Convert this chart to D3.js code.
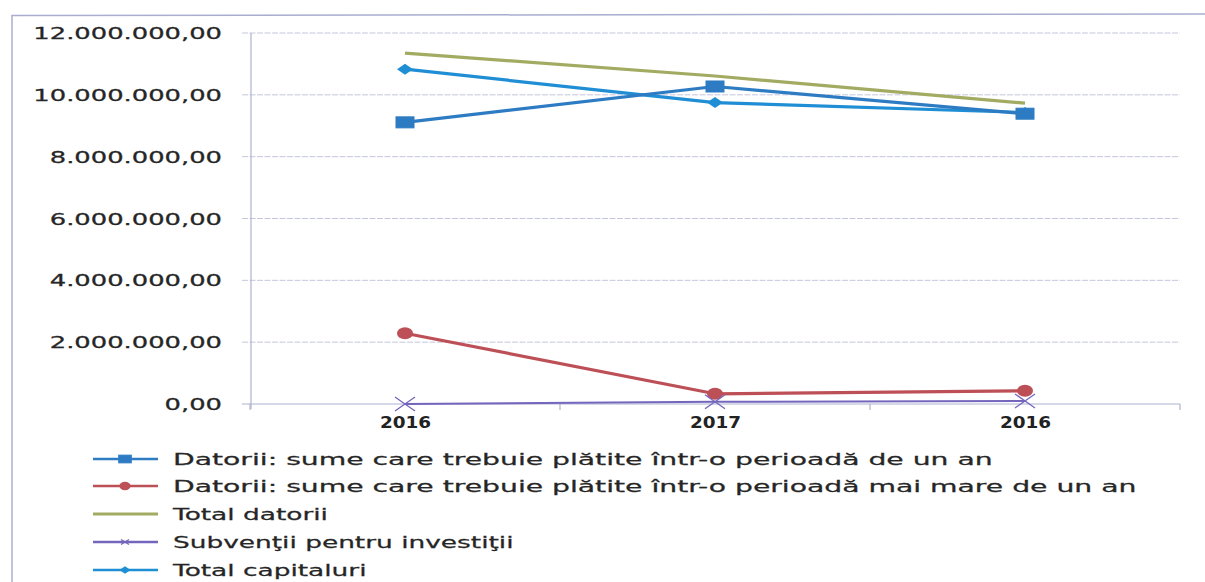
<!DOCTYPE html>
<html>
<head>
<meta charset="utf-8">
<script src="https://cdn.jsdelivr.net/npm/d3@7"></script>
<style>
  html, body { margin: 0; padding: 0; background: #fff; }
  svg { display: block; }
  text { font-family: "DejaVu Sans", Verdana, sans-serif; fill: #262626; }
</style>
</head>
<body>
<svg id="chart" width="1205" height="582"></svg>
<script>
// ---- data ----
const categories = ["2016", "2017", "2016"];
const yTicks = [0, 2000000, 4000000, 6000000, 8000000, 10000000, 12000000];
const datoriiUnAn = [9110000, 10270000, 9390000];
const datoriiPesteUnAn = [2290000, 330000, 430000];
const totalDatorii = [11350000, 10610000, 9730000];
const subventii = [0, 70000, 100000];
const totalCapitaluri = [10830000, 9750000, 9430000];
const seriesNames = [
  "Datorii: sume care trebuie plătite într-o perioadă de un an",
  "Datorii: sume care trebuie plătite într-o perioadă mai mare de un an",
  "Total datorii",
  "Subvenţii pentru investiţii",
  "Total capitaluri"
];

const series = [
  { name: seriesNames[0], values: datoriiUnAn, color: "#2d7cc3", marker: "square" },
  { name: seriesNames[1], values: datoriiPesteUnAn, color: "#bd4f57", marker: "circle" },
  { name: seriesNames[2], values: totalDatorii, color: "#a3ab62", marker: "none" },
  { name: seriesNames[3], values: subventii, color: "#7466bd", marker: "x" },
  { name: seriesNames[4], values: totalCapitaluri, color: "#1f8ed4", marker: "diamond" }
];

const svg = d3.select("#chart");

// outer frame (partial, as in scan)
svg.append("path")
  .attr("d", "M12,582 L12,15.5 L1205,14")
  .attr("fill", "none").attr("stroke", "#a9aed0").attr("stroke-width", 1.5);

const plot = { left: 250, right: 1180, top: 33, bottom: 404 };

const x = d3.scalePoint().domain(d3.range(categories.length))
  .range([plot.left, plot.right]).padding(0.5);
const y = d3.scaleLinear().domain([0, 12000000]).range([plot.bottom, plot.top]);

const fmt = v => {
  const s = d3.format(",.2f")(v);
  return s.replace(/,/g, "#").replace(/\./g, ",").replace(/#/g, ".");
};

// gridlines
svg.append("g").selectAll("line").data(yTicks.filter(d => d > 0)).join("line")
  .attr("x1", plot.left - 8).attr("x2", plot.right)
  .attr("y1", d => y(d)).attr("y2", d => y(d))
  .attr("stroke", "#c4c7de").attr("stroke-width", 1)
  .attr("stroke-dasharray", "6,1.5");

// y axis line
svg.append("line").attr("x1", plot.left + 1).attr("x2", plot.left + 1)
  .attr("y1", plot.top).attr("y2", plot.bottom + 5)
  .attr("stroke", "#aeb2cf").attr("stroke-width", 1.2);

// x axis
const xAxis = d3.axisBottom(x).tickSize(0).tickFormat(i => categories[i]);
const gx = svg.append("g").attr("transform", `translate(0,${plot.bottom})`).call(xAxis);
gx.select(".domain").attr("stroke", "#aeb2cf").attr("stroke-width", 1.2)
  .attr("d", `M${plot.left - 8},0H${plot.right}`);
gx.selectAll(".tick text")
  .attr("y", 0).attr("dy", 0)
  .style("font-family", "'DejaVu Sans', sans-serif")
  .style("font-weight", "bold").style("font-size", "16px").style("fill", "#222")
  .attr("text-anchor", "middle")
  .attr("transform", "translate(0,24) scale(1.15,1)");
// category boundary ticks
const step = x.step();
svg.append("g").selectAll("line").data(d3.range(categories.length + 1)).join("line")
  .attr("x1", i => plot.left + i * step).attr("x2", i => plot.left + i * step)
  .attr("y1", plot.bottom).attr("y2", plot.bottom + 6)
  .attr("stroke", "#aeb2cf").attr("stroke-width", 1.2);

// y labels
const yAxis = d3.axisLeft(y).tickValues(yTicks).tickSize(0).tickFormat(fmt);
const gy = svg.append("g").attr("transform", `translate(222,0)`).call(yAxis);
gy.select(".domain").remove();
gy.selectAll(".tick text")
  .attr("x", 0).attr("dy", 0)
  .style("font-family", "'DejaVu Sans', sans-serif")
  .style("font-size", "15px").style("fill", "#262626")
  .style("stroke", "#262626").style("stroke-width", 0.25)
  .attr("text-anchor", "end")
  .attr("transform", "translate(0,5.5) scale(1.72,1)");

// marker drawer
function drawMarker(g, type, color, size) {
  const s = size || 1;
  if (type === "square") {
    g.append("rect").attr("x", -9 * s).attr("y", -5.5 * s).attr("width", 18 * s).attr("height", 11 * s)
      .attr("fill", color).attr("stroke", color);
  } else if (type === "circle") {
    g.append("ellipse").attr("rx", 8 * s).attr("ry", 6 * s).attr("fill", color);
  } else if (type === "diamond") {
    g.append("path").attr("d", `M${-8 * s},0L0,${-5.5 * s}L${8 * s},0L0,${5.5 * s}Z`).attr("fill", color);
  } else if (type === "x") {
    g.append("path").attr("d", `M${-10 * s},${-7 * s}L${10 * s},${7 * s}M${-10 * s},${7 * s}L${10 * s},${-7 * s}`)
      .attr("stroke", color).attr("stroke-width", 1.3).attr("fill", "none");
  }
}

const line = d3.line().x((d, i) => x(i)).y(d => y(d));

// draw series in order so blue lines sit on top
const drawOrder = [1, 3, 2, 4, 0];
drawOrder.forEach(k => {
  const s = series[k];
  const g = svg.append("g");
  g.append("path").datum(s.values).attr("d", line)
    .attr("fill", "none").attr("stroke", s.color)
    .attr("stroke-width", s.marker === "x" ? 2 : 3.2).attr("stroke-linejoin", "round");
  s.values.forEach((v, i) => {
    const mg = g.append("g").attr("transform", `translate(${x(i)},${y(v)})`);
    drawMarker(mg, s.marker, s.color, 1);
  });
});

// legend
const legendY = [459, 486, 514, 542, 570];
const legend = svg.append("g");
series.forEach((s, k) => {
  const g = legend.append("g").attr("transform", `translate(0,${legendY[k]})`);
  g.append("line").attr("x1", 93).attr("x2", 158).attr("y1", 0).attr("y2", 0)
    .attr("stroke", s.color).attr("stroke-width", s.marker === "none" ? 3 : 2.5);
  const mg = g.append("g").attr("transform", "translate(125,0)");
  if (s.marker === "x") {
    mg.append("path").attr("d", "M-4,-2.5L4,2.5M-4,2.5L4,-2.5").attr("stroke", s.color).attr("stroke-width", 1.2);
  } else {
    drawMarker(mg, s.marker, s.color, 0.7);
  }
  const big = k < 2;
  g.append("text")
    .attr("text-anchor", "start")
    .style("font-size", "16px")
    .style("stroke", "#262626").style("stroke-width", 0.25)
    .attr("transform", `translate(173,6) scale(${big ? 1.765 : 1.65},1)`)
    .text(s.name);
});
</script>
</body>
</html>
